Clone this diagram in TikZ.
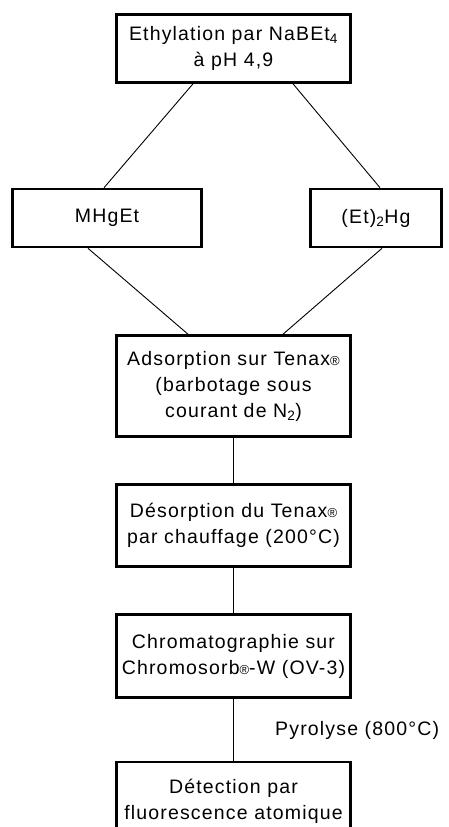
\documentclass[tikz,border=0pt]{standalone}
\usepackage{fontspec}
\setmainfont{Liberation Sans}[LetterSpace=6]
\newcommand{\regmark}{{\fontsize{13}{13}\selectfont ®}}

\begin{document}
\begin{tikzpicture}[x=1pt, y=-1pt,
    box/.style={draw, line width=2.6pt, inner sep=0pt, align=center,
        font=\fontsize{19.5}{26}\selectfont},
    link/.style={line width=0.9pt}]
    \useasboundingbox (0,0) rectangle (448,827);
    \clip (0,0) rectangle (448,827);

    % Ethylation and the two species
    \node[box, minimum width=234, minimum height=68] (ethyl) at (233.5,48.5)
        {Ethylation par NaBEt\textsubscript{4}\\à pH 4,9};
    \node[box, minimum width=189, minimum height=58] (mhget) at (107,218) {MHgEt};
    \node[box, minimum width=131, minimum height=58] (ethg) at (376,218)
        {(Et)\textsubscript{2}Hg};

    % Trapping, desorption, separation, detection
    \node[box, minimum width=234, minimum height=101] (adsorp) at (233.5,386)
        {Adsorption sur Tenax\regmark\\(barbotage sous\\courant de N\textsubscript{2})};
    \node[box, minimum width=234, minimum height=82] (desorp) at (233.5,525.5)
        {Désorption du Tenax\regmark\\par chauffage (200°C)};
    \node[box, minimum width=234, minimum height=83] (chroma) at (233.5,656)
        {Chromatographie sur\\Chromosorb\regmark-W (OV-3)};
    \node[box, minimum width=234, minimum height=78] (detect) at (233.5,801)
        {Détection par\\fluorescence atomique};
    \node[font=\fontsize{19.5}{26}\selectfont, anchor=west, inner sep=0pt] (pyro) at (275,730)
        {Pyrolyse (800°C)};

    % Connectors
    \draw[link] ([xshift=-40.5pt]ethyl.south) -- ([xshift=-3pt]mhget.north);
    \draw[link] ([xshift=59.5pt]ethyl.south) -- ([xshift=4pt]ethg.north);
    \draw[link] ([xshift=-19pt]mhget.south) -- ([xshift=-45.5pt]adsorp.north);
    \draw[link] ([xshift=6pt]ethg.south) -- ([xshift=49.5pt]adsorp.north);
    \foreach \a/\b in {adsorp/desorp, desorp/chroma, chroma/detect} {
        \draw[link] (\a) -- (\b);
    }
\end{tikzpicture}
\end{document}
